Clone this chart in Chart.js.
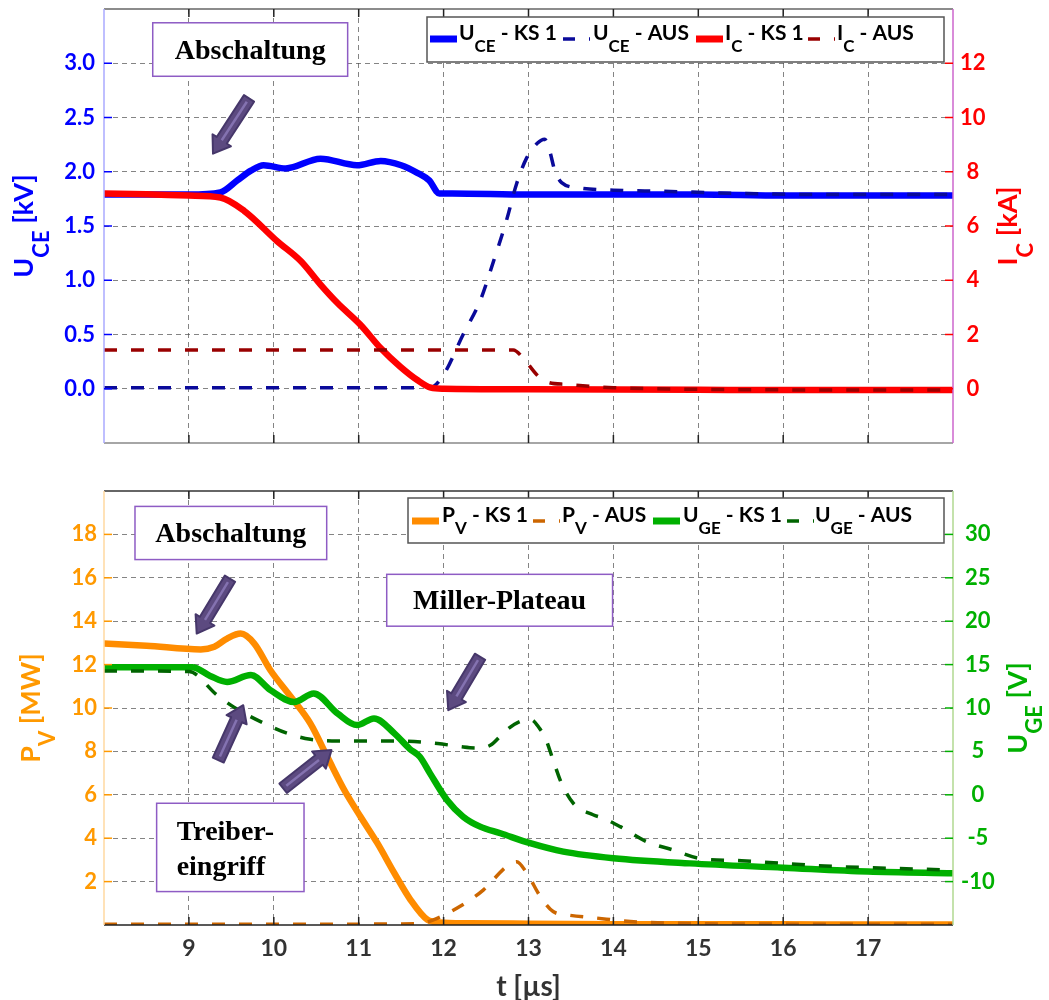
<!DOCTYPE html>
<html>
<head>
<meta charset="utf-8">
<script src="https://cdn.jsdelivr.net/npm/chart.js@4.4.0/dist/chart.umd.min.js"></script>
<style>
  html, body { margin: 0; padding: 0; background: #fff; }
  .wrap { position: absolute; left: 0; width: 1049px; }
  #top { top: 0; height: 470px; }
  #bottom { top: 470px; height: 530px; }
</style>
</head>
<body>
<div class="wrap" id="top"><canvas id="chartTop"></canvas></div>
<div class="wrap" id="bottom"><canvas id="chartBottom"></canvas></div>
<script>
const tUceKs1 = [8, 9.0, 9.37, 9.57, 9.73, 9.88, 10.14, 10.55, 10.98, 11.26, 11.5, 11.69, 11.83, 11.95, 12.1, 13, 14, 15, 16, 17, 18];
const uceKs1  = [1.79, 1.79, 1.81, 1.92, 2.01, 2.06, 2.03, 2.12, 2.06, 2.10, 2.06, 1.99, 1.92, 1.80, 1.80, 1.79, 1.79, 1.79, 1.78, 1.78, 1.78];

const tUceAus = [8, 11.0, 11.84, 12.0, 12.23, 12.43, 12.59, 12.74, 12.86, 12.98, 13.10, 13.19, 13.25, 13.31, 13.39, 13.61, 14.0, 14.59, 15.5, 16.5, 18];
const uceAus  = [0.01, 0.01, 0.01, 0.13, 0.50, 0.81, 1.18, 1.55, 1.89, 2.13, 2.26, 2.30, 2.19, 2.01, 1.90, 1.85, 1.83, 1.82, 1.80, 1.79, 1.79];

const tIcKs1 = [8, 8.5, 9.0, 9.37, 9.65, 10.04, 10.32, 10.55, 10.75, 11.02, 11.26, 11.49, 11.69, 11.85, 12.0, 13, 14, 15, 16, 17, 18];
const icKs1  = [7.2, 7.17, 7.12, 7.05, 6.56, 5.44, 4.7, 3.84, 3.16, 2.36, 1.49, 0.81, 0.32, 0.04, 0.0, -0.02, -0.03, -0.04, -0.05, -0.05, -0.05];

const tIcAus = [8, 12.0, 12.82, 12.94, 13.10, 13.21, 13.45, 14.0, 15, 16, 17, 18];
const icAus  = [1.43, 1.43, 1.43, 1.12, 0.51, 0.26, 0.16, 0.04, -0.02, -0.04, -0.05, -0.05];

const tPvKs1 = [8, 8.5, 9.14, 9.30, 9.45, 9.61, 9.77, 9.96, 10.20, 10.43, 10.63, 10.83, 11.02, 11.22, 11.42, 11.61, 11.81, 11.95, 12.3, 13, 14, 15, 16, 17, 18];
const pvKs1  = [12.97, 12.87, 12.7, 12.82, 13.2, 13.43, 12.97, 11.74, 10.52, 9.29, 7.75, 6.22, 5.0, 3.77, 2.39, 1.16, 0.24, 0.12, 0.08, 0.06, 0.04, 0.03, 0.03, 0.02, 0.02];

const tPvAus = [8, 11.0, 11.7, 11.88, 12.19, 12.47, 12.74, 12.86, 12.98, 13.14, 13.29, 13.45, 13.80, 14.2, 15, 16, 17, 18];
const pvAus  = [0.04, 0.04, 0.06, 0.24, 0.85, 1.62, 2.69, 2.92, 2.39, 1.31, 0.62, 0.47, 0.32, 0.16, 0.06, 0.04, 0.03, 0.03];

const tUgeKs1 = [8, 8.5, 9.04, 9.25, 9.45, 9.73, 9.96, 10.24, 10.47, 10.75, 10.98, 11.18, 11.42, 11.6, 11.72, 11.84, 12.04, 12.23, 12.43, 12.67, 13.02, 13.41, 14.0, 14.9, 16.0, 17.0, 18.0];
const ugeKs1  = [14.7, 14.7, 14.7, 13.7, 13.0, 13.8, 12.06, 10.7, 11.68, 9.38, 8.03, 8.8, 7.08, 5.3, 4.38, 2.47, -0.6, -2.52, -3.67, -4.43, -5.58, -6.55, -7.3, -7.9, -8.4, -8.85, -9.05];

const tUgeAus = [8, 8.5, 9.0, 9.33, 9.53, 9.85, 10.16, 10.43, 10.75, 11.45, 11.93, 12.2, 12.39, 12.55, 12.74, 12.9, 13.03, 13.13, 13.2, 13.29, 13.39, 13.53, 13.76, 13.88, 14.08, 14.39, 14.70, 15.0, 15.51, 16.49, 17.87, 18];
const ugeAus  = [14.25, 14.25, 14.2, 11.5, 10.1, 8.4, 7.08, 6.4, 6.2, 6.2, 5.9, 5.55, 5.4, 5.7, 7.46, 8.45, 8.65, 7.65, 6.5, 4.0, 1.3, -1.0, -2.3, -2.7, -3.67, -5.4, -6.35, -7.3, -7.6, -8.2, -8.65, -8.7];

// Achsenbeschriftungen
const timeTicks = [9, 10, 11, 12, 13, 14, 15, 16, 17];
const uceTicks = [0, 0.5, 1, 1.5, 2, 2.5, 3];
const icTicks = [0, 2, 4, 6, 8, 10, 12];
const pvTicks = [2, 4, 6, 8, 10, 12, 14, 16, 18];
const ugeTicks = [-10, -5, 0, 5, 10, 15, 20, 25, 30];

const FONT = 'Lato, "Open Sans", sans-serif';
const SERIF = '"Liberation Serif", "DejaVu Serif", serif';
const GRID = 'rgba(80,80,80,0.7)';

const pts = (ts, vs) => ts.map((t, i) => ({ x: t, y: vs[i] }));
const onTick = (list, v) => list.some(t => Math.abs(t - v) < 1e-6);

function richWidth(ctx, parts, size, subSize) {
    let w = 0;
    parts.forEach(p => {
        ctx.font = `bold ${p.sub ? subSize : size}px ${FONT}`;
        w += ctx.measureText(p.t).width;
    });
    return w;
}

function drawRich(ctx, parts, x, y, size, subSize, subDy, color, align) {
    const w = richWidth(ctx, parts, size, subSize);
    let cx = align === 'center' ? x - w / 2 : x;
    ctx.fillStyle = color;
    ctx.textAlign = 'left';
    ctx.textBaseline = 'alphabetic';
    parts.forEach(p => {
        ctx.font = `bold ${p.sub ? subSize : size}px ${FONT}`;
        ctx.fillText(p.t, cx, p.sub ? y + subDy : y);
        cx += ctx.measureText(p.t).width;
    });
}

function drawVTitle(ctx, parts, bx, cy, subDy, color) {
    ctx.save();
    ctx.translate(bx, cy);
    ctx.rotate(-Math.PI / 2);
    drawRich(ctx, parts, 0, 0, 27, 22, subDy, color, 'center');
    ctx.restore();
}

function drawArrow(ctx, x0, y0, x1, y1) {
    const dx = x1 - x0, dy = y1 - y0, len = Math.hypot(dx, dy);
    const ux = dx / len, uy = dy / len, nx = -uy, ny = ux;
    const sw = 6, hw = 11, hl = 16;
    const bx = x1 - ux * hl, by = y1 - uy * hl;
    ctx.save();
    ctx.beginPath();
    ctx.moveTo(x0 + nx * sw, y0 + ny * sw);
    ctx.lineTo(bx + nx * sw, by + ny * sw);
    ctx.lineTo(bx + nx * hw, by + ny * hw);
    ctx.lineTo(x1, y1);
    ctx.lineTo(bx - nx * hw, by - ny * hw);
    ctx.lineTo(bx - nx * sw, by - ny * sw);
    ctx.lineTo(x0 - nx * sw, y0 - ny * sw);
    ctx.closePath();
    ctx.fillStyle = '#5C4A80';
    ctx.fill();
    ctx.strokeStyle = '#46376A';
    ctx.lineWidth = 2;
    ctx.lineJoin = 'round';
    ctx.stroke();
    ctx.beginPath();
    ctx.moveTo(x0 + ux * 4, y0 + uy * 4);
    ctx.lineTo(bx, by);
    ctx.strokeStyle = '#8472B0';
    ctx.lineWidth = 2.5;
    ctx.stroke();
    ctx.restore();
}

function drawNoteBox(ctx, sx, sy, box) {
    const x1 = sx.getPixelForValue(box.t0), x2 = sx.getPixelForValue(box.t1);
    const y1 = sy.getPixelForValue(box.v0), y2 = sy.getPixelForValue(box.v1);
    ctx.save();
    ctx.fillStyle = '#fff';
    ctx.fillRect(x1, y1, x2 - x1, y2 - y1);
    ctx.strokeStyle = '#8E5CC4';
    ctx.lineWidth = 1.5;
    ctx.strokeRect(x1, y1, x2 - x1, y2 - y1);
    ctx.fillStyle = '#000';
    ctx.font = `bold 28px ${SERIF}`;
    ctx.textBaseline = 'alphabetic';
    if (box.lines.length === 1) {
        ctx.textAlign = 'center';
        ctx.fillText(box.lines[0], (x1 + x2) / 2, (y1 + y2) / 2 + 9);
    } else {
        ctx.textAlign = 'left';
        box.lines.forEach((l, i) => ctx.fillText(l, x1 + 20, y1 + 37 + i * 35));
    }
    ctx.restore();
}

function drawLegend(ctx, box, entries, baseY, sampleY) {
    ctx.save();
    ctx.fillStyle = '#fff';
    ctx.fillRect(box[0], box[1], box[2] - box[0], box[3] - box[1]);
    ctx.strokeStyle = '#555';
    ctx.lineWidth = 1.5;
    ctx.strokeRect(box[0], box[1], box[2] - box[0], box[3] - box[1]);
    entries.forEach(e => {
        ctx.beginPath();
        ctx.setLineDash(e.dash ? [12, 14] : []);
        ctx.lineWidth = e.dash ? 3.5 : 7;
        ctx.strokeStyle = e.color;
        ctx.moveTo(e.sx, sampleY);
        ctx.lineTo(e.sx + 27, sampleY);
        ctx.stroke();
        ctx.setLineDash([]);
        drawRich(ctx, e.parts, e.tx, baseY, 21, 17, 12, '#000', 'left');
    });
    ctx.restore();
}

function drawFrame(ctx, chart, f) {
    const a = chart.chartArea;
    const sx = chart.scales.x, sy = chart.scales.y, sy1 = chart.scales.y1;
    ctx.save();
    ctx.lineWidth = 1.5;
    const seg = (c, x0, y0, x1, y1) => {
        ctx.strokeStyle = c; ctx.beginPath(); ctx.moveTo(x0, y0); ctx.lineTo(x1, y1); ctx.stroke();
    };
    seg(f.topC, a.left, a.top, a.right, a.top);
    seg(f.botC, a.left, a.bottom, a.right, a.bottom);
    seg(f.leftC, a.left, a.top, a.left, a.bottom);
    seg(f.rightC, a.right, a.top, a.right, a.bottom);
    timeTicks.forEach(t => {
        const px = sx.getPixelForValue(t);
        seg('#222', px, a.top, px, a.top + 8);
        seg('#222', px, a.bottom, px, a.bottom - 8);
    });
    f.leftTicks.forEach(v => {
        const py = sy.getPixelForValue(v);
        seg(f.leftTickC, a.left, py, a.left + 8, py);
    });
    f.rightTicks.forEach(v => {
        const py = sy1.getPixelForValue(v);
        seg(f.rightTickC, a.right - 8, py, a.right, py);
    });
    ctx.restore();
}

const lineBase = { pointRadius: 0, fill: false, cubicInterpolationMode: 'monotone', borderJoinStyle: 'round' };
const tickFont = { family: FONT, weight: 'bold', size: 22 };

function baseScales(cfg) {
    return {
        x: {
            type: 'linear', min: 8, max: 18,
            ticks: {
                stepSize: 1, display: cfg.showX, color: '#333', padding: 10,
                font: { family: FONT, weight: 'bold', size: 23 },
                callback: v => onTick(timeTicks, v) ? String(v) : null
            },
            grid: { color: GRID, lineWidth: 1, drawTicks: false },
            border: { display: false, dash: [5, 4] },
            afterFit: s => { s.height = cfg.xHeight; s.paddingLeft = 0; s.paddingRight = 0; }
        },
        y: {
            position: 'left', min: cfg.yMin, max: cfg.yMax,
            ticks: {
                stepSize: cfg.yStep, color: cfg.yColor, padding: cfg.yPad, font: tickFont,
                callback: v => onTick(cfg.yTicks, v) ? cfg.yFmt(v) : null
            },
            grid: { color: GRID, lineWidth: 1, drawTicks: false },
            border: { display: false, dash: [5, 4] },
            afterFit: s => { s.width = 104; s.paddingTop = 0; s.paddingBottom = 0; }
        },
        y1: {
            position: 'right', min: cfg.y1Min, max: cfg.y1Max,
            ticks: {
                stepSize: cfg.y1Step, color: cfg.y1Color, padding: cfg.y1Pad, font: tickFont, crossAlign: 'center',
                callback: v => onTick(cfg.y1Ticks, v) ? String(v) : null
            },
            grid: { drawOnChartArea: false, drawTicks: false },
            border: { display: false },
            afterFit: s => { s.width = 96; s.paddingTop = 0; s.paddingBottom = 0; }
        }
    };
}

// Oberes Diagramm: U_CE / I_C
const topNotes = {
    boxes: [{ t0: 8.574, t1: 10.87, v0: 3.373, v1: 2.88, lines: ['Abschaltung'] }],
    arrows: [[9.708, 2.676, 9.284, 2.167]]
};

new Chart(document.getElementById('chartTop'), {
    type: 'line',
    data: {
        datasets: [
            { ...lineBase, label: 'U_CE - KS 1', data: pts(tUceKs1, uceKs1), yAxisID: 'y', borderColor: '#0000FF', borderWidth: 6.5, order: 4 },
            { ...lineBase, label: 'U_CE - AUS', data: pts(tUceAus, uceAus), yAxisID: 'y', borderColor: '#0A0A9A', borderWidth: 3.5, borderDash: [13, 14], order: 3 },
            { ...lineBase, label: 'I_C - KS 1', data: pts(tIcKs1, icKs1), yAxisID: 'y1', borderColor: '#FF0000', borderWidth: 6.5, order: 2 },
            { ...lineBase, label: 'I_C - AUS', data: pts(tIcAus, icAus), yAxisID: 'y1', borderColor: '#990000', borderWidth: 3.5, borderDash: [13, 14], order: 1 }
        ]
    },
    options: {
        animation: false, responsive: true, maintainAspectRatio: false, events: [],
        layout: { padding: { top: 9, left: 0, right: 0, bottom: 0 } },
        plugins: { legend: { display: false }, tooltip: { enabled: false } },
        scales: baseScales({
            showX: false, xHeight: 27,
            yMin: -0.5, yMax: 3.5, yStep: 0.5, yColor: '#0000FF', yPad: 9, yTicks: uceTicks, yFmt: v => v.toFixed(1),
            y1Min: -2, y1Max: 14, y1Step: 2, y1Color: '#FF0000', y1Pad: 7, y1Ticks: icTicks
        })
    },
    plugins: [{
        id: 'deko',
        afterDatasetsDraw(chart) {
            const ctx = chart.ctx, a = chart.chartArea;
            drawFrame(ctx, chart, {
                topC: '#666', botC: '#888', leftC: '#AAAAFF', rightC: '#CC66CC',
                leftTicks: uceTicks, rightTicks: icTicks, leftTickC: '#0000FF', rightTickC: '#FF0000'
            });
            const sx = chart.scales.x, sy = chart.scales.y;
            topNotes.boxes.forEach(b => drawNoteBox(ctx, sx, sy, b));
            topNotes.arrows.forEach(r => drawArrow(ctx, sx.getPixelForValue(r[0]), sy.getPixelForValue(r[1]),
                sx.getPixelForValue(r[2]), sy.getPixelForValue(r[3])));
            drawLegend(ctx, [427, 17, 944, 62], [
                { sx: 430, tx: 459, color: '#0000FF', parts: [{ t: 'U' }, { t: 'CE', sub: true }, { t: ' - KS 1' }] },
                { sx: 563, tx: 593, color: '#0A0A9A', dash: true, parts: [{ t: 'U' }, { t: 'CE', sub: true }, { t: ' - AUS' }] },
                { sx: 696, tx: 725, color: '#FF0000', parts: [{ t: 'I' }, { t: 'C', sub: true }, { t: ' - KS 1' }] },
                { sx: 808, tx: 837, color: '#990000', dash: true, parts: [{ t: 'I' }, { t: 'C', sub: true }, { t: ' - AUS' }] }
            ], 40, 39);
            const cy = (a.top + a.bottom) / 2;
            drawVTitle(ctx, [{ t: 'U' }, { t: 'CE', sub: true }, { t: ' [kV]' }], 33, cy, 16, '#0000FF');
            drawVTitle(ctx, [{ t: 'I' }, { t: 'C', sub: true }, { t: ' [kA]' }], 1017, cy, 16, '#FF0000');
        }
    }]
});

// Unteres Diagramm: P_V / U_GE
const bottomNotes = {
    boxes: [
        { t0: 8.365, t1: 10.623, v0: 19.29, v1: 16.84, lines: ['Abschaltung'] },
        { t0: 11.33, t1: 13.99, v0: 16.16, v1: 13.77, lines: ['Miller-Plateau'] },
        { t0: 8.62, t1: 10.356, v0: 5.61, v1: 1.54, lines: ['Treiber-', 'eingriff'] }
    ],
    arrows: [
        [9.484, 15.96, 9.092, 13.43],
        [12.429, 12.36, 12.055, 9.90],
        [9.346, 7.60, 9.64, 10.13],
        [10.11, 6.30, 10.68, 8.06]
    ]
};

new Chart(document.getElementById('chartBottom'), {
    type: 'line',
    data: {
        datasets: [
            { ...lineBase, label: 'P_V - KS 1', data: pts(tPvKs1, pvKs1), yAxisID: 'y', borderColor: '#FF8C00', borderWidth: 6.5, order: 4 },
            { ...lineBase, label: 'P_V - AUS', data: pts(tPvAus, pvAus), yAxisID: 'y', borderColor: '#CC6600', borderWidth: 3.5, borderDash: [13, 14], order: 3 },
            { ...lineBase, label: 'U_GE - KS 1', data: pts(tUgeKs1, ugeKs1), yAxisID: 'y1', borderColor: '#00B000', borderWidth: 6.5, order: 2 },
            { ...lineBase, label: 'U_GE - AUS', data: pts(tUgeAus, ugeAus), yAxisID: 'y1', borderColor: '#006400', borderWidth: 3.5, borderDash: [13, 14], order: 1 }
        ]
    },
    options: {
        animation: false, responsive: true, maintainAspectRatio: false, events: [],
        layout: { padding: { top: 21, left: 0, right: 0, bottom: 0 } },
        plugins: { legend: { display: false }, tooltip: { enabled: false } },
        scales: baseScales({
            showX: true, xHeight: 75,
            yMin: 0, yMax: 20, yStep: 2, yColor: '#FF9900', yPad: 7, yTicks: pvTicks, yFmt: v => String(v),
            y1Min: -15, y1Max: 35, y1Step: 5, y1Color: '#00B000', y1Pad: 8, y1Ticks: ugeTicks
        })
    },
    plugins: [{
        id: 'deko',
        afterDatasetsDraw(chart) {
            const ctx = chart.ctx, a = chart.chartArea;
            drawFrame(ctx, chart, {
                topC: '#333', botC: '#222', leftC: '#FFD9A0', rightC: '#B0D890',
                leftTicks: pvTicks, rightTicks: ugeTicks, leftTickC: '#FF9900', rightTickC: '#00B000'
            });
            const sx = chart.scales.x, sy = chart.scales.y;
            bottomNotes.boxes.forEach(b => drawNoteBox(ctx, sx, sy, b));
            bottomNotes.arrows.forEach(r => drawArrow(ctx, sx.getPixelForValue(r[0]), sy.getPixelForValue(r[1]),
                sx.getPixelForValue(r[2]), sy.getPixelForValue(r[3])));
            drawLegend(ctx, [408, 28, 944, 73], [
                { sx: 412, tx: 442, color: '#FF8C00', parts: [{ t: 'P' }, { t: 'V', sub: true }, { t: ' - KS 1' }] },
                { sx: 533, tx: 562, color: '#CC6600', dash: true, parts: [{ t: 'P' }, { t: 'V', sub: true }, { t: ' - AUS' }] },
                { sx: 653, tx: 683, color: '#00B000', parts: [{ t: 'U' }, { t: 'GE', sub: true }, { t: ' - KS 1' }] },
                { sx: 787, tx: 815, color: '#006400', dash: true, parts: [{ t: 'U' }, { t: 'GE', sub: true }, { t: ' - AUS' }] }
            ], 52, 51);
            const cy = (a.top + a.bottom) / 2;
            drawVTitle(ctx, [{ t: 'P' }, { t: 'V', sub: true }, { t: ' [MW]' }], 40, cy, 15, '#FF9900');
            drawVTitle(ctx, [{ t: 'U' }, { t: 'GE', sub: true }, { t: ' [V]' }], 1027, cy, 15, '#00B000');
            drawRich(ctx, [{ t: 't [µs]' }], (a.left + a.right) / 2, 526, 28, 20, 0, '#333', 'center');
        }
    }]
});
</script>
</body>
</html>
